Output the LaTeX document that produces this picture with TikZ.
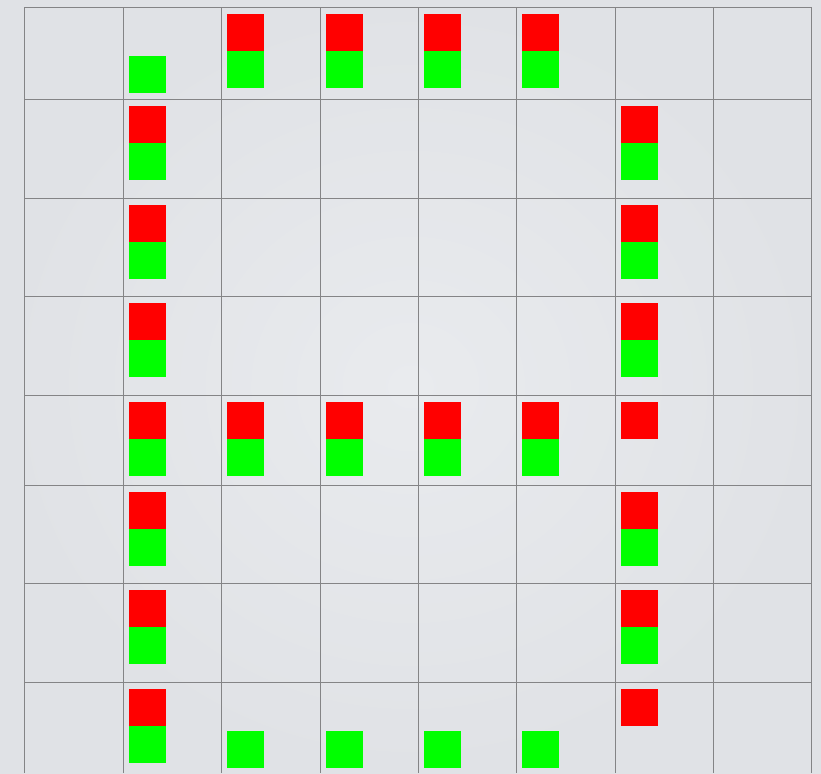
\documentclass[tikz,border=0pt]{standalone}
\usetikzlibrary{positioning}

\definecolor{bgin}{RGB}{233,235,238}
\definecolor{bgout}{RGB}{224,226,230}
\definecolor{gridgray}{RGB}{132,132,134}
\definecolor{pred}{RGB}{255,0,0}
\definecolor{pgreen}{RGB}{0,255,0}

\tikzset{
  sq/.style={minimum size=37pt, inner sep=0pt, outer sep=0pt, anchor=north west},
  rsq/.style={sq, fill=pred},
  gsq/.style={sq, fill=pgreen},
  gridln/.style={draw=gridgray, line width=1.3pt}
}

\begin{document}
\begin{tikzpicture}[x=1pt, y=-1pt]
  % background
  \shade[inner color=bgin, outer color=bgout] (0,0) rectangle (821,773);
  \useasboundingbox (0,0) rectangle (821,773);

  % grid
  \foreach \x in {24.5,123.5,221.5,320.5,418.5,516.5,615.5,713.5,811.5}
    \draw[gridln] (\x,7.5) -- (\x,773);
  \foreach \y in {7.5,99.5,198.5,296.5,395.5,485.5,583.5,682.5}
    \draw[gridln] (24.5,\y) -- (811.5,\y);

  % red over green
  \foreach \c/\r in {2/0,3/0,4/0,5/0, 1/1,6/1, 1/2,6/2, 1/3,6/3,
                     1/4,2/4,3/4,4/4,5/4, 1/5,6/5, 1/6,6/6, 1/7} {
    \pgfmathsetmacro\cx{{24.5,123.5,221.5,320.5,418.5,516.5,615.5,713.5}[\c]+5.5}
    \pgfmathsetmacro\ry{{7.5,99.5,198.5,296.5,395.5,485.5,583.5,682.5}[\r]+6.5}
    \node[rsq] (r\c\r) at (\cx,\ry) {};
    \node[gsq, below=0pt of r\c\r] (g\c\r) {};
  }

  % red alone
  \foreach \c/\r in {6/4,6/7} {
    \pgfmathsetmacro\cx{{24.5,123.5,221.5,320.5,418.5,516.5,615.5,713.5}[\c]+5.5}
    \pgfmathsetmacro\ry{{7.5,99.5,198.5,296.5,395.5,485.5,583.5,682.5}[\r]+6.5}
    \node[rsq] (r\c\r) at (\cx,\ry) {};
  }

  % green alone
  \foreach \c/\r in {1/0,2/7,3/7,4/7,5/7} {
    \pgfmathsetmacro\cx{{24.5,123.5,221.5,320.5,418.5,516.5,615.5,713.5}[\c]+5.5}
    \pgfmathsetmacro\ry{{7.5,99.5,198.5,296.5,395.5,485.5,583.5,682.5}[\r]+48.5}
    \node[gsq] (g\c\r) at (\cx,\ry) {};
  }
\end{tikzpicture}
\end{document}
